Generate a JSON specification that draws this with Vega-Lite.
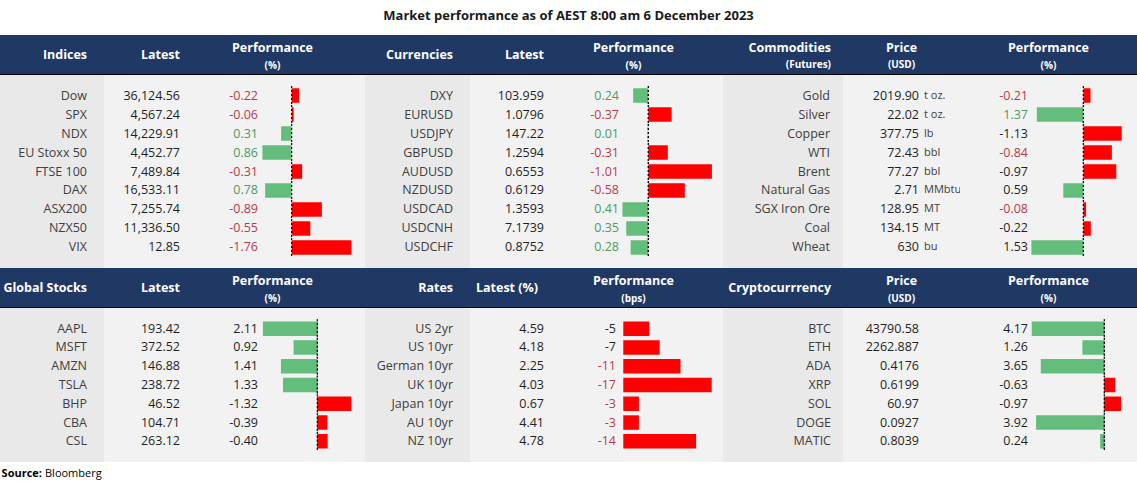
{
"$schema": "https://vega.github.io/schema/vega-lite/v6.json",
"background": "#ffffff",
"padding": {"top": 10, "left": 0, "right": 0, "bottom": 0},
"title": {"text": "Market performance as of AEST 8:00 am 6 December 2023", "fontSize": 13, "fontWeight": "bold", "color": "#1a1a1a", "font": "Open Sans", "anchor": "middle", "offset": 12},
"config": {
  "view": {"stroke": null},
  "font": "Open Sans",
  "text": {"font": "Open Sans", "fontSize": 12.5, "baseline": "middle", "color": "#1f1f1f"}
},
"datasets": {
  "indices": [
    {"name": "Dow", "latest": "36,124.56", "perf": -0.22, "label": "-0.22"},
    {"name": "SPX", "latest": "4,567.24", "perf": -0.06, "label": "-0.06"},
    {"name": "NDX", "latest": "14,229.91", "perf": 0.31, "label": "0.31"},
    {"name": "EU Stoxx 50", "latest": "4,452.77", "perf": 0.86, "label": "0.86"},
    {"name": "FTSE 100", "latest": "7,489.84", "perf": -0.31, "label": "-0.31"},
    {"name": "DAX", "latest": "16,533.11", "perf": 0.78, "label": "0.78"},
    {"name": "ASX200", "latest": "7,255.74", "perf": -0.89, "label": "-0.89"},
    {"name": "NZX50", "latest": "11,336.50", "perf": -0.55, "label": "-0.55"},
    {"name": "VIX", "latest": "12.85", "perf": -1.76, "label": "-1.76"}
  ],
  "currencies": [
    {"name": "DXY", "latest": "103.959", "perf": 0.24, "label": "0.24"},
    {"name": "EURUSD", "latest": "1.0796", "perf": -0.37, "label": "-0.37"},
    {"name": "USDJPY", "latest": "147.22", "perf": 0.01, "label": "0.01"},
    {"name": "GBPUSD", "latest": "1.2594", "perf": -0.31, "label": "-0.31"},
    {"name": "AUDUSD", "latest": "0.6553", "perf": -1.01, "label": "-1.01"},
    {"name": "NZDUSD", "latest": "0.6129", "perf": -0.58, "label": "-0.58"},
    {"name": "USDCAD", "latest": "1.3593", "perf": 0.41, "label": "0.41"},
    {"name": "USDCNH", "latest": "7.1739", "perf": 0.35, "label": "0.35"},
    {"name": "USDCHF", "latest": "0.8752", "perf": 0.28, "label": "0.28"}
  ],
  "commodities": [
    {"name": "Gold", "latest": "2019.90", "unit": "t oz.", "perf": -0.21, "label": "-0.21"},
    {"name": "Silver", "latest": "22.02", "unit": "t oz.", "perf": 1.37, "label": "1.37"},
    {"name": "Copper", "latest": "377.75", "unit": "lb", "perf": -1.13, "label": "-1.13"},
    {"name": "WTI", "latest": "72.43", "unit": "bbl", "perf": -0.84, "label": "-0.84"},
    {"name": "Brent", "latest": "77.27", "unit": "bbl", "perf": -0.97, "label": "-0.97"},
    {"name": "Natural Gas", "latest": "2.71", "unit": "MMbtu", "perf": 0.59, "label": "0.59"},
    {"name": "SGX Iron Ore", "latest": "128.95", "unit": "MT", "perf": -0.08, "label": "-0.08"},
    {"name": "Coal", "latest": "134.15", "unit": "MT", "perf": -0.22, "label": "-0.22"},
    {"name": "Wheat", "latest": "630", "unit": "bu", "perf": 1.53, "label": "1.53"}
  ],
  "stocks": [
    {"name": "AAPL", "latest": "193.42", "perf": 2.11, "label": "2.11"},
    {"name": "MSFT", "latest": "372.52", "perf": 0.92, "label": "0.92"},
    {"name": "AMZN", "latest": "146.88", "perf": 1.41, "label": "1.41"},
    {"name": "TSLA", "latest": "238.72", "perf": 1.33, "label": "1.33"},
    {"name": "BHP", "latest": "46.52", "perf": -1.32, "label": "-1.32"},
    {"name": "CBA", "latest": "104.71", "perf": -0.39, "label": "-0.39"},
    {"name": "CSL", "latest": "263.12", "perf": -0.40, "label": "-0.40"}
  ],
  "rates": [
    {"name": "US 2yr", "latest": "4.59", "perf": -5, "label": "-5"},
    {"name": "US 10yr", "latest": "4.18", "perf": -7, "label": "-7"},
    {"name": "German 10yr", "latest": "2.25", "perf": -11, "label": "-11"},
    {"name": "UK 10yr", "latest": "4.03", "perf": -17, "label": "-17"},
    {"name": "Japan 10yr", "latest": "0.67", "perf": -3, "label": "-3"},
    {"name": "AU 10yr", "latest": "4.41", "perf": -3, "label": "-3"},
    {"name": "NZ 10yr", "latest": "4.78", "perf": -14, "label": "-14"}
  ],
  "crypto": [
    {"name": "BTC", "latest": "43790.58", "perf": 4.17, "label": "4.17"},
    {"name": "ETH", "latest": "2262.887", "perf": 1.26, "label": "1.26"},
    {"name": "ADA", "latest": "0.4176", "perf": 3.65, "label": "3.65"},
    {"name": "XRP", "latest": "0.6199", "perf": -0.63, "label": "-0.63"},
    {"name": "SOL", "latest": "60.97", "perf": -0.97, "label": "-0.97"},
    {"name": "DOGE", "latest": "0.0927", "perf": 3.92, "label": "3.92"},
    {"name": "MATIC", "latest": "0.8039", "perf": 0.24, "label": "0.24"}
  ]
},
"spacing": 0,
"vconcat": [
  {"spacing": 0, "bounds": "flush", "hconcat": [
    {"width": 104, "height": 39, "view": {"fill": "#203864"}, "data": {"values": [{"h": "Indices"}]},
     "mark": {"type": "text", "align": "right", "dx": -17, "fontWeight": "bold", "color": "#ffffff"}, "encoding": {"x": {"value": "width"}, "text": {"field": "h"}}},
    {"width": 76, "height": 39, "view": {"fill": "#203864"}, "data": {"values": [{"h": "Latest"}]},
     "mark": {"type": "text", "align": "right", "fontWeight": "bold", "color": "#ffffff"}, "encoding": {"x": {"value": "width"}, "text": {"field": "h"}}},
    {"width": 185, "height": 39, "view": {"fill": "#203864"}, "data": {"values": [{"h": "Performance", "sub": "(%)"}]},
     "layer": [
       {"mark": {"type": "text", "fontWeight": "bold", "color": "#ffffff", "dy": -7}, "encoding": {"text": {"field": "h"}}},
       {"mark": {"type": "text", "fontWeight": "bold", "fontSize": 10, "color": "#ffffff", "dy": 11}, "encoding": {"text": {"field": "sub"}}}
     ]},
    {"width": 105, "height": 39, "view": {"fill": "#203864"}, "data": {"values": [{"h": "Currencies"}]},
     "mark": {"type": "text", "align": "right", "dx": -17, "fontWeight": "bold", "color": "#ffffff"}, "encoding": {"x": {"value": "width"}, "text": {"field": "h"}}},
    {"width": 74, "height": 39, "view": {"fill": "#203864"}, "data": {"values": [{"h": "Latest"}]},
     "mark": {"type": "text", "align": "right", "fontWeight": "bold", "color": "#ffffff"}, "encoding": {"x": {"value": "width"}, "text": {"field": "h"}}},
    {"width": 179, "height": 39, "view": {"fill": "#203864"}, "data": {"values": [{"h": "Performance", "sub": "(%)"}]},
     "layer": [
       {"mark": {"type": "text", "fontWeight": "bold", "color": "#ffffff", "dy": -7}, "encoding": {"text": {"field": "h"}}},
       {"mark": {"type": "text", "fontWeight": "bold", "fontSize": 10, "color": "#ffffff", "dy": 11}, "encoding": {"text": {"field": "sub"}}}
     ]},
    {"width": 120, "height": 39, "view": {"fill": "#203864"}, "data": {"values": [{"h": "Commodities", "sub": "(Futures)"}]},
     "layer": [
       {"mark": {"type": "text", "align": "right", "dx": -12, "fontWeight": "bold", "color": "#ffffff", "dy": -7}, "encoding": {"x": {"value": "width"}, "text": {"field": "h"}}},
       {"mark": {"type": "text", "align": "right", "dx": -12, "fontWeight": "bold", "fontSize": 10, "color": "#ffffff", "dy": 10}, "encoding": {"x": {"value": "width"}, "text": {"field": "sub"}}}
     ]},
    {"width": 117, "height": 39, "view": {"fill": "#203864"}, "data": {"values": [{"h": "Price", "sub": "(USD)"}]},
     "layer": [
       {"mark": {"type": "text", "fontWeight": "bold", "color": "#ffffff", "dy": -7}, "encoding": {"text": {"field": "h"}}},
       {"mark": {"type": "text", "fontWeight": "bold", "fontSize": 10, "color": "#ffffff", "dy": 10}, "encoding": {"text": {"field": "sub"}}}
     ]},
    {"width": 177, "height": 39, "view": {"fill": "#203864"}, "data": {"values": [{"h": "Performance", "sub": "(%)"}]},
     "layer": [
       {"mark": {"type": "text", "fontWeight": "bold", "color": "#ffffff", "dy": -7}, "encoding": {"text": {"field": "h"}}},
       {"mark": {"type": "text", "fontWeight": "bold", "fontSize": 10, "color": "#ffffff", "dy": 11}, "encoding": {"text": {"field": "sub"}}}
     ]}
  ]},
  {"width": 1137, "height": 1, "view": {"fill": "#000000"}, "mark": {"type": "rule", "opacity": 0}, "encoding": {}},
  {"spacing": 0, "bounds": "flush", "hconcat": [
    {"width": 104, "height": 193, "view": {"fill": "#e9e9e9"}, "data": {"name": "indices"},
     "mark": {"type": "text", "align": "right", "dx": -17, "color": "#404040"},
     "encoding": {"y": {"field": "name", "type": "nominal", "sort": null, "axis": null, "bandPosition": 0.5, "scale": {"type": "band", "paddingInner": 0, "paddingOuter": 0.58}}, "x": {"value": "width"}, "text": {"field": "name"}}},
    {"width": 76, "height": 193, "view": {"fill": "#f2f2f2"}, "data": {"name": "indices"},
     "mark": {"type": "text", "align": "right"},
     "encoding": {"y": {"field": "name", "type": "nominal", "sort": null, "axis": null, "bandPosition": 0.5, "scale": {"type": "band", "paddingInner": 0, "paddingOuter": 0.58}}, "x": {"value": "width"}, "text": {"field": "latest"}}},
    {"width": 78, "height": 193, "view": {"fill": "#f2f2f2"}, "data": {"name": "indices"},
     "mark": {"type": "text", "align": "right"},
     "encoding": {"y": {"field": "name", "type": "nominal", "sort": null, "axis": null, "bandPosition": 0.5, "scale": {"type": "band", "paddingInner": 0, "paddingOuter": 0.58}}, "x": {"value": "width"}, "text": {"field": "label"},
       "color": {"condition": {"test": "datum.perf < 0", "value": "#b83a4b"}, "value": "#4e9a5f"}}},
    {"width": 107, "height": 193, "view": {"fill": "#f2f2f2"}, "data": {"name": "indices"},
     "layer": [
       {"mark": {"type": "bar", "size": 14.5},
        "encoding": {"y": {"field": "name", "type": "nominal", "sort": null, "axis": null, "scale": {"type": "band", "paddingInner": 0, "paddingOuter": 0.58}},
          "x": {"field": "perf", "type": "quantitative", "axis": null, "scale": {"domain": [-2.16, 0.99], "reverse": true, "nice": false}}, "x2": {"datum": 0},
          "color": {"condition": {"test": "datum.perf < 0", "value": "#ff0000"}, "value": "#63be7b"}}},
       {"mark": {"type": "bar", "size": 19, "fill": "transparent", "stroke": "#000000", "strokeDash": [2, 2], "strokeWidth": 1},
        "encoding": {"y": {"field": "name", "type": "nominal", "sort": null, "axis": null, "scale": {"type": "band", "paddingInner": 0, "paddingOuter": 0.58}}, "x": {"datum": 0}, "x2": {"datum": 0}}}
     ]},
    {"width": 105, "height": 193, "view": {"fill": "#e9e9e9"}, "data": {"name": "currencies"},
     "mark": {"type": "text", "align": "right", "dx": -17, "color": "#404040"},
     "encoding": {"y": {"field": "name", "type": "nominal", "sort": null, "axis": null, "bandPosition": 0.5, "scale": {"type": "band", "paddingInner": 0, "paddingOuter": 0.58}}, "x": {"value": "width"}, "text": {"field": "name"}}},
    {"width": 74, "height": 193, "view": {"fill": "#f2f2f2"}, "data": {"name": "currencies"},
     "mark": {"type": "text", "align": "right"},
     "encoding": {"y": {"field": "name", "type": "nominal", "sort": null, "axis": null, "bandPosition": 0.5, "scale": {"type": "band", "paddingInner": 0, "paddingOuter": 0.58}}, "x": {"value": "width"}, "text": {"field": "latest"}}},
    {"width": 75, "height": 193, "view": {"fill": "#f2f2f2"}, "data": {"name": "currencies"},
     "mark": {"type": "text", "align": "right"},
     "encoding": {"y": {"field": "name", "type": "nominal", "sort": null, "axis": null, "bandPosition": 0.5, "scale": {"type": "band", "paddingInner": 0, "paddingOuter": 0.58}}, "x": {"value": "width"}, "text": {"field": "label"},
       "color": {"condition": {"test": "datum.perf < 0", "value": "#b83a4b"}, "value": "#4e9a5f"}}},
    {"width": 104, "height": 193, "view": {"fill": "#f2f2f2"}, "data": {"name": "currencies"},
     "layer": [
       {"mark": {"type": "bar", "size": 14.5},
        "encoding": {"y": {"field": "name", "type": "nominal", "sort": null, "axis": null, "scale": {"type": "band", "paddingInner": 0, "paddingOuter": 0.58}},
          "x": {"field": "perf", "type": "quantitative", "axis": null, "scale": {"domain": [-1.186, 0.465], "reverse": true, "nice": false}}, "x2": {"datum": 0},
          "color": {"condition": {"test": "datum.perf < 0", "value": "#ff0000"}, "value": "#63be7b"}}},
       {"mark": {"type": "bar", "size": 19, "fill": "transparent", "stroke": "#000000", "strokeDash": [2, 2], "strokeWidth": 1},
        "encoding": {"y": {"field": "name", "type": "nominal", "sort": null, "axis": null, "scale": {"type": "band", "paddingInner": 0, "paddingOuter": 0.58}}, "x": {"datum": 0}, "x2": {"datum": 0}}}
     ]},
    {"width": 120, "height": 193, "view": {"fill": "#e9e9e9"}, "data": {"name": "commodities"},
     "mark": {"type": "text", "align": "right", "dx": -13, "color": "#404040"},
     "encoding": {"y": {"field": "name", "type": "nominal", "sort": null, "axis": null, "bandPosition": 0.5, "scale": {"type": "band", "paddingInner": 0, "paddingOuter": 0.58}}, "x": {"value": "width"}, "text": {"field": "name"}}},
    {"width": 76, "height": 193, "view": {"fill": "#f2f2f2"}, "data": {"name": "commodities"},
     "mark": {"type": "text", "align": "right"},
     "encoding": {"y": {"field": "name", "type": "nominal", "sort": null, "axis": null, "bandPosition": 0.5, "scale": {"type": "band", "paddingInner": 0, "paddingOuter": 0.58}}, "x": {"value": "width"}, "text": {"field": "latest"}}},
    {"width": 41, "height": 193, "view": {"fill": "#f2f2f2"}, "data": {"name": "commodities"},
     "mark": {"type": "text", "align": "left", "dx": 5, "fontSize": 11, "color": "#404040"},
     "encoding": {"y": {"field": "name", "type": "nominal", "sort": null, "axis": null, "bandPosition": 0.5, "scale": {"type": "band", "paddingInner": 0, "paddingOuter": 0.58}}, "x": {"value": 0}, "text": {"field": "unit"}}},
    {"width": 68, "height": 193, "view": {"fill": "#f2f2f2"}, "data": {"name": "commodities"},
     "mark": {"type": "text", "align": "right"},
     "encoding": {"y": {"field": "name", "type": "nominal", "sort": null, "axis": null, "bandPosition": 0.5, "scale": {"type": "band", "paddingInner": 0, "paddingOuter": 0.58}}, "x": {"value": "width"}, "text": {"field": "label"},
       "color": {"field": "perf", "type": "quantitative", "legend": null, "scale": {"type": "threshold", "domain": [0], "range": ["#b83a4b", "#4e9a5f"]},
         "condition": {"test": "indexof(['Copper','Brent','Natural Gas','Coal','Wheat'], datum.name) >= 0", "value": "#1f1f1f"}}}},
    {"width": 109, "height": 193, "view": {"fill": "#f2f2f2"}, "data": {"name": "commodities"},
     "layer": [
       {"mark": {"type": "bar", "size": 14.5},
        "encoding": {"y": {"field": "name", "type": "nominal", "sort": null, "axis": null, "scale": {"type": "band", "paddingInner": 0, "paddingOuter": 0.58}},
          "x": {"field": "perf", "type": "quantitative", "axis": null, "scale": {"domain": [-1.58, 1.63], "reverse": true, "nice": false}}, "x2": {"datum": 0},
          "color": {"condition": {"test": "datum.perf < 0", "value": "#ff0000"}, "value": "#63be7b"}}},
       {"mark": {"type": "bar", "size": 19, "fill": "transparent", "stroke": "#000000", "strokeDash": [2, 2], "strokeWidth": 1},
        "encoding": {"y": {"field": "name", "type": "nominal", "sort": null, "axis": null, "scale": {"type": "band", "paddingInner": 0, "paddingOuter": 0.58}}, "x": {"datum": 0}, "x2": {"datum": 0}}}
     ]}
  ]},
  {"spacing": 0, "bounds": "flush", "hconcat": [
    {"width": 104, "height": 39, "view": {"fill": "#203864"}, "data": {"values": [{"h": "Global Stocks"}]},
     "mark": {"type": "text", "align": "right", "dx": -17, "fontWeight": "bold", "color": "#ffffff"}, "encoding": {"x": {"value": "width"}, "text": {"field": "h"}}},
    {"width": 76, "height": 39, "view": {"fill": "#203864"}, "data": {"values": [{"h": "Latest"}]},
     "mark": {"type": "text", "align": "right", "fontWeight": "bold", "color": "#ffffff"}, "encoding": {"x": {"value": "width"}, "text": {"field": "h"}}},
    {"width": 185, "height": 39, "view": {"fill": "#203864"}, "data": {"values": [{"h": "Performance", "sub": "(%)"}]},
     "layer": [
       {"mark": {"type": "text", "fontWeight": "bold", "color": "#ffffff", "dy": -7}, "encoding": {"text": {"field": "h"}}},
       {"mark": {"type": "text", "fontWeight": "bold", "fontSize": 10, "color": "#ffffff", "dy": 11}, "encoding": {"text": {"field": "sub"}}}
     ]},
    {"width": 105, "height": 39, "view": {"fill": "#203864"}, "data": {"values": [{"h": "Rates"}]},
     "mark": {"type": "text", "align": "right", "dx": -17, "fontWeight": "bold", "color": "#ffffff"}, "encoding": {"x": {"value": "width"}, "text": {"field": "h"}}},
    {"width": 74, "height": 39, "view": {"fill": "#203864"}, "data": {"values": [{"h": "Latest (%)"}]},
     "mark": {"type": "text", "fontWeight": "bold", "color": "#ffffff"}, "encoding": {"text": {"field": "h"}}},
    {"width": 179, "height": 39, "view": {"fill": "#203864"}, "data": {"values": [{"h": "Performance", "sub": "(bps)"}]},
     "layer": [
       {"mark": {"type": "text", "fontWeight": "bold", "color": "#ffffff", "dy": -7}, "encoding": {"text": {"field": "h"}}},
       {"mark": {"type": "text", "fontWeight": "bold", "fontSize": 10, "color": "#ffffff", "dy": 11}, "encoding": {"text": {"field": "sub"}}}
     ]},
    {"width": 120, "height": 39, "view": {"fill": "#203864"}, "data": {"values": [{"h": "Cryptocurrrency"}]},
     "mark": {"type": "text", "align": "right", "dx": -12, "fontWeight": "bold", "color": "#ffffff"}, "encoding": {"x": {"value": "width"}, "text": {"field": "h"}}},
    {"width": 117, "height": 39, "view": {"fill": "#203864"}, "data": {"values": [{"h": "Price", "sub": "(USD)"}]},
     "layer": [
       {"mark": {"type": "text", "fontWeight": "bold", "color": "#ffffff", "dy": -7}, "encoding": {"text": {"field": "h"}}},
       {"mark": {"type": "text", "fontWeight": "bold", "fontSize": 10, "color": "#ffffff", "dy": 11}, "encoding": {"text": {"field": "sub"}}}
     ]},
    {"width": 177, "height": 39, "view": {"fill": "#203864"}, "data": {"values": [{"h": "Performance", "sub": "(%)"}]},
     "layer": [
       {"mark": {"type": "text", "fontWeight": "bold", "color": "#ffffff", "dy": -7}, "encoding": {"text": {"field": "h"}}},
       {"mark": {"type": "text", "fontWeight": "bold", "fontSize": 10, "color": "#ffffff", "dy": 11}, "encoding": {"text": {"field": "sub"}}}
     ]}
  ]},
  {"width": 1137, "height": 1, "view": {"fill": "#000000"}, "mark": {"type": "rule", "opacity": 0}, "encoding": {}},
  {"spacing": 0, "bounds": "flush", "hconcat": [
    {"width": 104, "height": 154, "view": {"fill": "#e9e9e9"}, "data": {"name": "stocks"},
     "mark": {"type": "text", "align": "right", "dx": -17, "color": "#404040"},
     "encoding": {"y": {"field": "name", "type": "nominal", "sort": null, "axis": null, "bandPosition": 0.5, "scale": {"type": "band", "paddingInner": 0, "paddingOuter": 0.6}}, "x": {"value": "width"}, "text": {"field": "name"}}},
    {"width": 76, "height": 154, "view": {"fill": "#f2f2f2"}, "data": {"name": "stocks"},
     "mark": {"type": "text", "align": "right"},
     "encoding": {"y": {"field": "name", "type": "nominal", "sort": null, "axis": null, "bandPosition": 0.5, "scale": {"type": "band", "paddingInner": 0, "paddingOuter": 0.6}}, "x": {"value": "width"}, "text": {"field": "latest"}}},
    {"width": 78, "height": 154, "view": {"fill": "#f2f2f2"}, "data": {"name": "stocks"},
     "mark": {"type": "text", "align": "right"},
     "encoding": {"y": {"field": "name", "type": "nominal", "sort": null, "axis": null, "bandPosition": 0.5, "scale": {"type": "band", "paddingInner": 0, "paddingOuter": 0.6}}, "x": {"value": "width"}, "text": {"field": "label"}}},
    {"width": 107, "height": 154, "view": {"fill": "#f2f2f2"}, "data": {"name": "stocks"},
     "layer": [
       {"mark": {"type": "bar", "size": 14.5},
        "encoding": {"y": {"field": "name", "type": "nominal", "sort": null, "axis": null, "scale": {"type": "band", "paddingInner": 0, "paddingOuter": 0.6}},
          "x": {"field": "perf", "type": "quantitative", "axis": null, "scale": {"domain": [-1.85, 2.3], "reverse": true, "nice": false}}, "x2": {"datum": 0},
          "color": {"condition": {"test": "datum.perf < 0", "value": "#ff0000"}, "value": "#63be7b"}}},
       {"mark": {"type": "bar", "size": 18.6, "fill": "transparent", "stroke": "#000000", "strokeDash": [2, 2], "strokeWidth": 1},
        "encoding": {"y": {"field": "name", "type": "nominal", "sort": null, "axis": null, "scale": {"type": "band", "paddingInner": 0, "paddingOuter": 0.6}}, "x": {"datum": 0}, "x2": {"datum": 0}}}
     ]},
    {"width": 105, "height": 154, "view": {"fill": "#e9e9e9"}, "data": {"name": "rates"},
     "mark": {"type": "text", "align": "right", "dx": -17, "color": "#404040"},
     "encoding": {"y": {"field": "name", "type": "nominal", "sort": null, "axis": null, "bandPosition": 0.5, "scale": {"type": "band", "paddingInner": 0, "paddingOuter": 0.6}}, "x": {"value": "width"}, "text": {"field": "name"}}},
    {"width": 74, "height": 154, "view": {"fill": "#f2f2f2"}, "data": {"name": "rates"},
     "mark": {"type": "text", "align": "right"},
     "encoding": {"y": {"field": "name", "type": "nominal", "sort": null, "axis": null, "bandPosition": 0.5, "scale": {"type": "band", "paddingInner": 0, "paddingOuter": 0.6}}, "x": {"value": "width"}, "text": {"field": "latest"}}},
    {"width": 72, "height": 154, "view": {"fill": "#f2f2f2"}, "data": {"name": "rates"},
     "mark": {"type": "text", "align": "right"},
     "encoding": {"y": {"field": "name", "type": "nominal", "sort": null, "axis": null, "bandPosition": 0.5, "scale": {"type": "band", "paddingInner": 0, "paddingOuter": 0.6}}, "x": {"value": "width"}, "text": {"field": "label"},
       "color": {"condition": {"test": "datum.name == 'US 2yr' || datum.name == 'US 10yr'", "value": "#1f1f1f"}, "value": "#b83a4b"}}},
    {"width": 107, "height": 154, "view": {"fill": "#f2f2f2"}, "data": {"name": "rates"},
     "mark": {"type": "bar", "size": 14.5},
     "encoding": {"y": {"field": "name", "type": "nominal", "sort": null, "axis": null, "scale": {"type": "band", "paddingInner": 0, "paddingOuter": 0.6}},
       "x": {"field": "perf", "type": "quantitative", "axis": null, "scale": {"domain": [-19.17, 1.4], "reverse": true, "nice": false}}, "x2": {"datum": 0},
       "color": {"condition": {"test": "datum.perf < 0", "value": "#ff0000"}, "value": "#63be7b"}}},
    {"width": 120, "height": 154, "view": {"fill": "#e9e9e9"}, "data": {"name": "crypto"},
     "mark": {"type": "text", "align": "right", "dx": -12, "color": "#404040"},
     "encoding": {"y": {"field": "name", "type": "nominal", "sort": null, "axis": null, "bandPosition": 0.5, "scale": {"type": "band", "paddingInner": 0, "paddingOuter": 0.6}}, "x": {"value": "width"}, "text": {"field": "name"}}},
    {"width": 76, "height": 154, "view": {"fill": "#f2f2f2"}, "data": {"name": "crypto"},
     "mark": {"type": "text", "align": "right"},
     "encoding": {"y": {"field": "name", "type": "nominal", "sort": null, "axis": null, "bandPosition": 0.5, "scale": {"type": "band", "paddingInner": 0, "paddingOuter": 0.6}}, "x": {"value": "width"}, "text": {"field": "latest"}}},
    {"width": 109, "height": 154, "view": {"fill": "#f2f2f2"}, "data": {"name": "crypto"},
     "mark": {"type": "text", "align": "right"},
     "encoding": {"y": {"field": "name", "type": "nominal", "sort": null, "axis": null, "bandPosition": 0.5, "scale": {"type": "band", "paddingInner": 0, "paddingOuter": 0.6}}, "x": {"value": "width"}, "text": {"field": "label"}}},
    {"width": 109, "height": 154, "view": {"fill": "#f2f2f2"}, "data": {"name": "crypto"},
     "layer": [
       {"mark": {"type": "bar", "size": 14.5},
        "encoding": {"y": {"field": "name", "type": "nominal", "sort": null, "axis": null, "scale": {"type": "band", "paddingInner": 0, "paddingOuter": 0.6}},
          "x": {"field": "perf", "type": "quantitative", "axis": null, "scale": {"domain": [-1.88, 4.385], "reverse": true, "nice": false}}, "x2": {"datum": 0},
          "color": {"condition": {"test": "datum.perf < 0", "value": "#ff0000"}, "value": "#63be7b"}}},
       {"mark": {"type": "bar", "size": 18.6, "fill": "transparent", "stroke": "#000000", "strokeDash": [2, 2], "strokeWidth": 1},
        "encoding": {"y": {"field": "name", "type": "nominal", "sort": null, "axis": null, "scale": {"type": "band", "paddingInner": 0, "paddingOuter": 0.6}}, "x": {"datum": 0}, "x2": {"datum": 0}}}
     ]}
  ]},
  {"spacing": 0, "bounds": "flush", "hconcat": [
    {"width": 42, "height": 20, "data": {"values": [{"t": "Source:"}]},
     "mark": {"type": "text", "align": "right", "fontWeight": "bold", "fontSize": 11, "color": "#000000", "dy": 2},
     "encoding": {"x": {"value": "width"}, "text": {"field": "t"}}},
    {"width": 1095, "height": 20, "data": {"values": [{"t": "Bloomberg"}]},
     "mark": {"type": "text", "align": "left", "fontSize": 11, "color": "#000000", "dx": 3, "dy": 2},
     "encoding": {"x": {"value": 0}, "text": {"field": "t"}}}
  ]}
]
}
